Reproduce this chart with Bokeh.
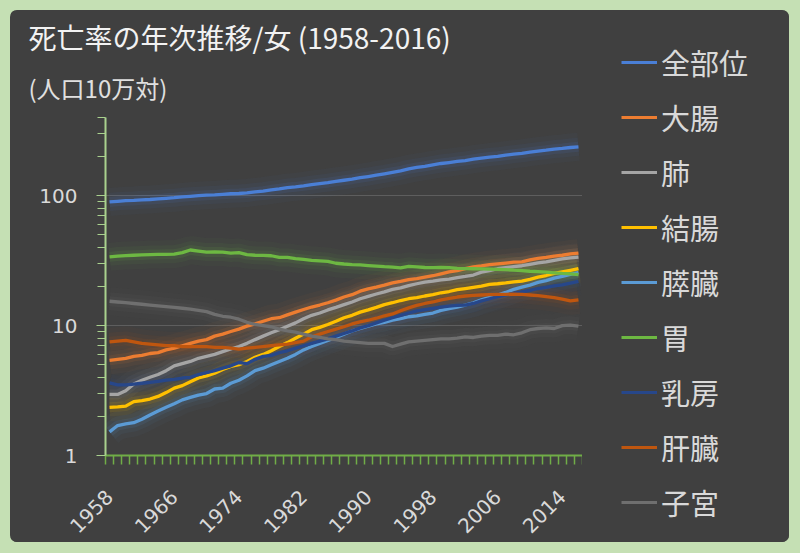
import math
from bokeh.plotting import figure
from bokeh.layouts import row, column
from bokeh.models import (Range1d, FixedTicker, Title, Legend, LegendItem)
from bokeh.embed import file_html
from bokeh.resources import INLINE

# ---------------- data ----------------
years = list(range(1958, 2017))

series_names = ["全部位", "大腸", "肺", "結腸", "膵臓", "胃", "乳房", "肝臓", "子宮"]

all_sites = [89.5, 90.5, 91.5, 92.0, 93.0, 93.5, 94.5, 95.5, 96.5, 98.0,
             99.0, 100.0, 101.0, 101.5, 102.5, 103.5, 104.0, 105.0, 107.0, 108.5,
             111.0, 113.0, 115.5, 117.0, 119.0, 121.5, 124.0, 126.0, 129.0, 131.5,
             134.0, 137.5, 140.5, 144.0, 147.5, 151.5, 155.5, 161.0, 165.0, 168.5,
             173.0, 177.0, 180.0, 183.5, 186.5, 191.0, 195.0, 198.5, 201.0, 205.0,
             209.0, 212.0, 216.5, 220.5, 224.0, 228.5, 231.0, 235.0, 238.0]

large_intestine = [5.4, 5.5, 5.6, 5.8, 5.9, 6.1, 6.2, 6.5, 6.7, 7.0,
                   7.3, 7.6, 7.8, 8.3, 8.6, 9.0, 9.4, 9.9, 10.3, 10.8,
                   11.3, 11.5, 12.1, 12.7, 13.3, 13.9, 14.4, 15.0, 15.7, 16.6,
                   17.3, 18.4, 19.2, 19.8, 20.5, 21.3, 21.9, 22.6, 23.0, 23.6,
                   24.2, 25.0, 25.9, 26.5, 27.5, 28.3, 28.8, 29.5, 29.9, 30.3,
                   30.8, 31.0, 32.0, 32.9, 33.5, 34.3, 34.8, 35.6, 36.1]

lung = [2.95, 2.95, 3.15, 3.55, 3.8, 4.0, 4.2, 4.5, 4.9, 5.1,
        5.3, 5.6, 5.8, 6.0, 6.3, 6.6, 6.9, 7.3, 7.8, 8.3,
        8.8, 9.3, 9.9, 10.5, 11.3, 12.0, 12.5, 13.2, 13.8, 14.5,
        15.2, 16.1, 16.8, 17.5, 18.2, 19.0, 19.5, 20.3, 21.0, 21.6,
        22.0, 22.5, 22.8, 23.4, 23.9, 24.5, 25.8, 26.5, 27.4, 27.9,
        28.5, 28.9, 29.6, 30.4, 31.0, 31.8, 32.6, 33.2, 33.7]

colon = [2.35, 2.37, 2.4, 2.6, 2.65, 2.72, 2.85, 3.05, 3.3, 3.45,
         3.7, 3.95, 4.1, 4.3, 4.6, 4.85, 5.0, 5.3, 5.7, 6.0,
         6.4, 6.9, 7.4, 8.0, 8.6, 9.3, 9.7, 10.2, 10.8, 11.5,
         12.0, 12.7, 13.2, 13.8, 14.5, 15.0, 15.6, 16.1, 16.4, 16.9,
         17.3, 17.9, 18.3, 18.9, 19.3, 19.7, 20.1, 20.8, 21.0, 21.3,
         21.7, 22.0, 22.7, 23.6, 24.3, 25.2, 25.9, 26.6, 27.4]

pancreas = [1.52, 1.7, 1.75, 1.79, 1.9, 2.05, 2.2, 2.35, 2.5, 2.68,
            2.8, 2.92, 3.0, 3.25, 3.3, 3.6, 3.8, 4.1, 4.5, 4.7,
            5.0, 5.3, 5.6, 6.0, 6.5, 6.9, 7.3, 7.7, 8.1, 8.6,
            9.1, 9.5, 9.9, 10.3, 10.6, 11.0, 11.3, 11.7, 11.9, 12.2,
            12.5, 13.1, 13.5, 13.9, 14.4, 15.0, 15.8, 16.5, 17.2, 18.0,
            19.0, 19.8, 20.5, 21.5, 22.2, 23.2, 23.9, 24.8, 25.6]

stomach = [33.8, 34.3, 34.6, 34.8, 35.0, 35.2, 35.3, 35.4, 35.5, 36.5,
           38.2, 37.5, 36.8, 36.9, 36.8, 36.2, 36.5, 35.2, 34.8, 34.7,
           34.5, 33.5, 33.5, 32.8, 32.3, 31.8, 31.5, 31.2, 30.2, 29.8,
           29.5, 29.3, 29.0, 28.7, 28.4, 28.2, 27.8, 28.6, 28.3, 28.0,
           27.9, 28.0, 27.9, 27.6, 27.5, 27.4, 27.3, 27.2, 27.1, 27.0,
           26.7, 26.5, 26.2, 26.0, 25.8, 25.5, 25.2, 25.0, 24.7]

breast = [3.62, 3.5, 3.5, 3.55, 3.6, 3.65, 3.72, 3.8, 3.85, 3.95,
          4.0, 4.2, 4.35, 4.5, 4.7, 4.9, 5.2, 5.1, 5.5, 5.8,
          5.9, 6.2, 6.4, 6.7, 7.0, 7.3, 7.6, 7.9, 8.3, 8.7,
          9.1, 9.6, 10.0, 10.5, 11.0, 11.5, 12.0, 12.5, 13.0, 13.3,
          13.6, 13.9, 14.1, 14.3, 14.4, 14.8, 15.5, 16.1, 16.7, 17.2,
          17.7, 18.2, 18.7, 19.3, 19.7, 20.2, 20.6, 21.2, 21.9]

liver = [7.5, 7.6, 7.7, 7.5, 7.3, 7.2, 7.1, 7.0, 7.0, 6.9,
         6.9, 6.9, 6.9, 6.8, 6.8, 6.7, 6.6, 6.7, 6.8, 6.9,
         7.0, 7.1, 7.2, 7.4, 7.6, 8.2, 8.6, 9.0, 9.4, 9.8,
         10.3, 10.7, 11.0, 11.4, 11.9, 12.3, 13.0, 13.7, 14.3, 14.8,
         15.2, 15.8, 16.2, 16.6, 16.9, 17.1, 17.2, 17.3, 17.4, 17.4,
         17.5, 17.4, 17.2, 17.0, 16.7, 16.4, 16.0, 15.5, 15.8]

uterus = [15.4, 15.2, 15.0, 14.8, 14.6, 14.4, 14.2, 14.0, 13.8, 13.6,
          13.4, 13.1, 12.8, 12.2, 11.8, 11.6, 11.2, 10.6, 10.2, 10.0,
          9.8, 9.4, 9.1, 8.9, 8.6, 8.3, 8.1, 7.9, 7.8, 7.6,
          7.5, 7.4, 7.3, 7.3, 7.3, 6.9, 7.2, 7.5, 7.6, 7.7,
          7.8, 7.9, 7.9, 8.0, 8.2, 8.1, 8.3, 8.4, 8.4, 8.6,
          8.5, 8.8, 9.3, 9.5, 9.6, 9.5, 10.0, 10.1, 9.9]

series_values = [all_sites, large_intestine, lung, colon, pancreas,
                 stomach, breast, liver, uterus]
series_colors = ["#4a7fd6", "#ed7d31", "#a5a5a5", "#ffc000", "#5b9bd5",
                 "#6db842", "#27478a", "#bf560f", "#6f6f6f"]

label_years = [1958, 1966, 1974, 1982, 1990, 1998, 2006, 2014]
y_major = [1, 10, 100]
y_minor = [2, 3, 4, 5, 6, 7, 8, 9, 20, 30, 40, 50, 60, 70, 80, 90, 200, 300, 400]

title_text = "死亡率の年次推移/女 (1958-2016)"
subtitle_text = "(人口10万対)"

JP = "Noto Sans CJK JP"
BG = "#404040"

# ---------------- main chart ----------------
p = figure(width=572, height=532, output_backend="svg", toolbar_location=None,
           x_range=Range1d(years[0] - 0.5, years[-1] + 0.5),
           y_range=Range1d(1, 400), y_axis_type="log",
           min_border_left=95, min_border_right=0,
           min_border_top=107, min_border_bottom=85)
p.background_fill_color = BG
p.border_fill_color = BG
p.outline_line_color = None
p.title.text = ""

xa = p.xaxis[0]
xa.ticker = FixedTicker(ticks=label_years,
                        minor_ticks=[y - 0.5 for y in years] + [years[-1] + 0.5])
xa.major_tick_out = 0
xa.major_tick_in = 0
xa.minor_tick_out = 9
xa.minor_tick_in = 0
xa.minor_tick_line_color = "#70ad47"
xa.minor_tick_line_width = 1.5
xa.axis_line_color = "#70ad47"
xa.axis_line_width = 2
xa.major_label_orientation = math.pi / 4
xa.major_label_text_font = "DejaVu Sans"
xa.major_label_text_font_size = "20px"
xa.major_label_text_color = "#d9d9d9"
xa.major_label_standoff = 29

ya = p.yaxis[0]
ya.ticker = FixedTicker(ticks=y_major, minor_ticks=y_minor)
ya.major_label_overrides = {1: "1", 10: "10", 100: "100"}
ya.major_tick_out = 9
ya.major_tick_in = 0
ya.minor_tick_out = 8
ya.minor_tick_in = 0
ya.major_tick_line_color = "#a9d18e"
ya.minor_tick_line_color = "#a9d18e"
ya.axis_line_color = "#a9d18e"
ya.axis_line_width = 2
ya.major_label_text_font = "DejaVu Sans"
ya.major_label_text_font_size = "20px"
ya.major_label_text_color = "#d9d9d9"
ya.major_label_standoff = 19

p.xgrid.grid_line_color = None
p.ygrid.grid_line_color = "#5e5e5e"
p.ygrid.grid_line_width = 1

# soft glow under each line
for vals, col in zip(series_values, series_colors):
    p.line(years, vals, line_color=col, line_width=28, line_alpha=0.04)
    p.line(years, vals, line_color=col, line_width=18, line_alpha=0.06)
    p.line(years, vals, line_color=col, line_width=10, line_alpha=0.10)
for vals, col in zip(series_values, series_colors):
    p.line(years, vals, line_color=col, line_width=3.3, line_join="round")

# titles (closest to the frame first)
p.add_layout(Title(text=" ", text_font=JP, text_font_size="3px",
                   standoff=0), "above")
p.add_layout(Title(text=subtitle_text, text_font=JP, text_font_size="24px",
                   text_color="#e0e0e0", text_font_style="normal",
                   align="left", offset=-77, standoff=13), "above")
p.add_layout(Title(text=title_text, text_font=JP, text_font_size="28px",
                   text_color="#f2f2f2", text_font_style="normal",
                   align="left", offset=-77, standoff=9), "above")

# ---------------- legend panel ----------------
lg = figure(width=207, height=532, output_backend="svg", toolbar_location=None,
            x_range=Range1d(0, 1), y_range=Range1d(0, 1),
            x_axis_type=None, y_axis_type=None,
            min_border_left=0, min_border_right=0,
            min_border_top=0, min_border_bottom=0)
lg.background_fill_color = BG
lg.border_fill_color = BG
lg.outline_line_color = None
lg.grid.visible = False

items = []
for name, vals, col in zip(series_names, series_values, series_colors):
    r = lg.line(years, vals, line_color=col, line_width=3.2)
    items.append(LegendItem(label=name, renderers=[r]))

legend = Legend(items=items, location=(39, 19))
legend.label_text_font = JP
legend.label_text_font_size = "29px"
legend.label_text_color = "#d9d9d9"
legend.glyph_width = 36
legend.glyph_height = 20
legend.label_standoff = 4
legend.spacing = 13
legend.padding = 0
legend.margin = 0
legend.border_line_color = None
legend.background_fill_alpha = 0
lg.add_layout(legend)

layout = row(column(p, spacing=0), column(lg, spacing=0), spacing=0,
             styles={"background-color": BG, "border-radius": "7px",
                     "overflow": "hidden"})

html = file_html(layout, INLINE)
html = html.replace(
    "</head>",
    "<style>html,body{background:#c5e0b4 !important;}"
    "body{padding:10px !important;box-sizing:border-box !important;}</style></head>", 1)
open("out.html", "w").write(html)
